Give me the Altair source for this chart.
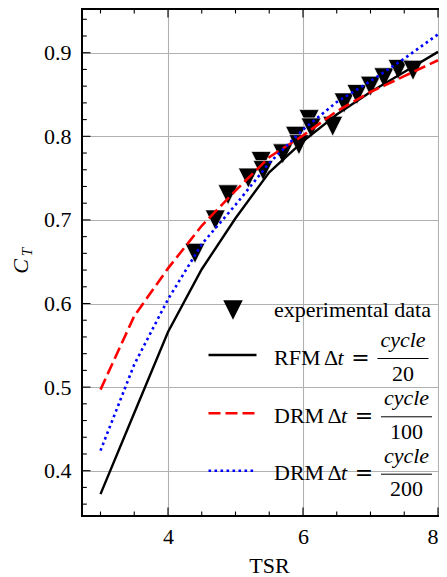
import altair as alt
import pandas as pd

# ---------------- data ----------------
tsr = [3.0, 3.5, 4.0, 4.5, 5.0, 5.5, 6.0, 6.5, 7.0, 7.5, 8.0]
rfm_20 = [0.372, 0.469, 0.566, 0.641, 0.702, 0.757, 0.794, 0.826, 0.853, 0.877, 0.901]
drm_100 = [0.497, 0.585, 0.642, 0.693, 0.735, 0.775, 0.801, 0.830, 0.853, 0.872, 0.891]
drm_200 = [0.424, 0.527, 0.605, 0.671, 0.718, 0.768, 0.808, 0.841, 0.866, 0.893, 0.922]

exp_tsr = [4.40, 4.70, 4.89, 5.19, 5.38, 5.41, 5.70, 5.89, 5.94, 6.09, 6.12, 6.44,
           6.61, 6.80, 7.00, 7.20, 7.41, 7.63]
exp_ct = [0.660, 0.700, 0.730, 0.750, 0.770, 0.759, 0.779, 0.800, 0.790, 0.820, 0.810,
          0.812, 0.840, 0.850, 0.860, 0.870, 0.880, 0.879]

x_major = [4, 6, 8]
x_minor = [3, 3.5, 4.5, 5, 5.5, 6.5, 7, 7.5]
y_major = [0.4, 0.5, 0.6, 0.7, 0.8, 0.9]
y_minor = [0.36, 0.38, 0.42, 0.44, 0.46, 0.48, 0.52, 0.54, 0.56, 0.58, 0.62, 0.64,
           0.66, 0.68, 0.72, 0.74, 0.76, 0.78, 0.82, 0.84, 0.86, 0.88, 0.92, 0.94]

legend_names = ["experimental data", "RFM", "DRM", "DRM"]
legend_denoms = ["20", "100", "200"]
x_title = "TSR"

# ---------------- layout ----------------
W, H = 357, 507
FONT = "Liberation Serif"

xs = alt.Scale(domain=[2.726, 8.015], nice=False, zero=False)
ys = alt.Scale(domain=[0.3458, 0.9523], nice=False, zero=False)

AX_X = alt.Axis(
    values=x_major, format="d", grid=True, gridColor="#b0b0b0", gridWidth=1.1,
    domain=False, ticks=False, tickSize=0, labelPadding=10, title=None,
    labelAlign={"condition": {"test": "datum.value >= 8", "value": "right"}, "value": "center"},
    labelFont=FONT, labelFontSize=22, labelColor="black")
AX_Y = alt.Axis(
    values=y_major, format=".1f", grid=True, gridColor="#b0b0b0", gridWidth=1.1,
    domain=False, ticks=False, tickSize=0, labelPadding=11, title=None,
    labelFont=FONT, labelFontSize=22, labelColor="black")

lines_df = pd.DataFrame({
    "tsr": tsr * 3,
    "ct": rfm_20 + drm_100 + drm_200,
    "series": ["rfm"] * len(tsr) + ["drm100"] * len(tsr) + ["drm200"] * len(tsr),
})
exp_df = pd.DataFrame({"tsr": exp_tsr, "ct": exp_ct})
one = alt.Data(values=[{"d": 0}])

TRI = "M-1,-1L1,-1L0,1Z"


def px(x):
    return x - 82


def py(y):
    return y - 9


def X(field):
    return alt.X(field, scale=xs, axis=AX_X, title=None)


def Y(field):
    return alt.Y(field, scale=ys, axis=AX_Y, title=None)


def txt(s, x, y, size=22, italic=False, align="left", angle=0, font=FONT):
    return alt.Chart(one).mark_text(
        text=s, font=font, fontSize=size,
        fontStyle="italic" if italic else "normal",
        align=align, baseline="alphabetic", color="black", angle=angle,
    ).encode(x=alt.value(px(x)), y=alt.value(py(y)))


def hrule(x1, x2, y, color="black", width=1.0, dash=None):
    kw = dict(color=color, strokeWidth=width)
    if dash:
        kw["strokeDash"] = dash
    return alt.Chart(one).mark_rule(**kw).encode(
        x=alt.value(px(x1)), x2=alt.value(px(x2)), y=alt.value(py(y)))


points = alt.Chart(exp_df).mark_point(
    shape=TRI, filled=True, size=400, color="black", opacity=1,
    stroke="white", strokeWidth=0.7,
).encode(x=X("tsr:Q"), y=Y("ct:Q"))


def line_layer(series, color, width, dash=None):
    kw = dict(color=color, strokeWidth=width)
    if dash:
        kw["strokeDash"] = dash
    return alt.Chart(lines_df).transform_filter(
        alt.datum.series == series
    ).mark_line(**kw).encode(x=X("tsr:Q"), y=Y("ct:Q"))


black = line_layer("rfm", "black", 2.4)
red = line_layer("drm100", "#ff0000", 2.6, [12, 5])
blue = line_layer("drm200", "#0000ff", 2.6, [2.6, 3.4])

spine_left = alt.Chart(one).mark_rule(color="black", strokeWidth=2).encode(
    x=alt.value(0), y=alt.value(0), y2=alt.value(H))
spine_bottom = alt.Chart(one).mark_rule(color="black", strokeWidth=2).encode(
    x=alt.value(-1), x2=alt.value(W + 5), y=alt.value(H))
spine_top = alt.Chart(one).mark_rule(color="black", strokeWidth=2).encode(
    x=alt.value(-1), x2=alt.value(W + 5), y=alt.value(0))


def xticks(vals, length):
    df = pd.DataFrame({"v": vals})
    b = alt.Chart(df).mark_rule(color="black", strokeWidth=1.1).encode(
        x=X("v:Q"), y=alt.value(H), y2=alt.value(H - length))
    t = alt.Chart(df).mark_rule(color="black", strokeWidth=1.1).encode(
        x=X("v:Q"), y=alt.value(0), y2=alt.value(length))
    return [b, t]


def yticks(vals, length):
    df = pd.DataFrame({"v": vals})
    return [alt.Chart(df).mark_rule(color="black", strokeWidth=1.1).encode(
        y=Y("v:Q"), x=alt.value(0), x2=alt.value(length))]


ticks = xticks(x_major, 8.5) + xticks(x_minor, 4.5) + yticks(y_major, 8.5) + yticks(y_minor, 4.8)

titles = [
    txt(x_title, 269.5, 572.5, align="center"),
    txt("C", 27.5, 266.5, italic=True, align="center", angle=270),
    txt("T", 31.5, 252, size=15, italic=True, align="center", angle=270),
]

legend = []
legend.append(alt.Chart(one).mark_point(
    shape=TRI, filled=True, size=380, color="black", opacity=1).encode(
    x=alt.value(px(233)), y=alt.value(py(310))))
legend.append(txt(legend_names[0], 274, 316.5))

handles = [
    dict(color="black", width=2.4, dash=None),
    dict(color="#ff0000", width=2.6, dash=[12, 5]),
    dict(color="#0000ff", width=2.6, dash=[2.6, 3.4]),
]
row_y = [355, 413.3, 470.7]
row_shift = [-3.5, 0, 0]
for i in range(3):
    h = row_y[i]
    s = row_shift[i]
    legend.append(hrule(208.5, 256.5, h, **handles[i]))
    legend.append(txt(legend_names[i + 1], 274, h + 9.5))
    legend.append(txt("\u0394", 327.5 + s, h + 9.5))
    legend.append(txt("t", 341 + s, h + 9.5, italic=True))
    legend.append(txt("=", 364 + s, h + 9.5, align="center", font="DejaVu Serif"))
    legend.append(hrule(381 + s, 432 + s, h + 3.5, width=1.0))
    legend.append(txt("cycle", 406.5 + s, h - 8, italic=True, align="center"))
    legend.append(txt(legend_denoms[i], 406.5 + s, h + 25.5, align="center"))

chart = alt.layer(
    points, black, red, blue, spine_left, spine_bottom, spine_top, *ticks, *titles, *legend
).properties(
    width=W, height=H,
    autosize=alt.AutoSizeParams(type="none"),
    padding={"left": 74, "top": 1, "right": 0, "bottom": 60},
    background="white",
).configure_view(stroke=None)

chart.save("out.html", embed_options={"renderer": "svg", "actions": False})
